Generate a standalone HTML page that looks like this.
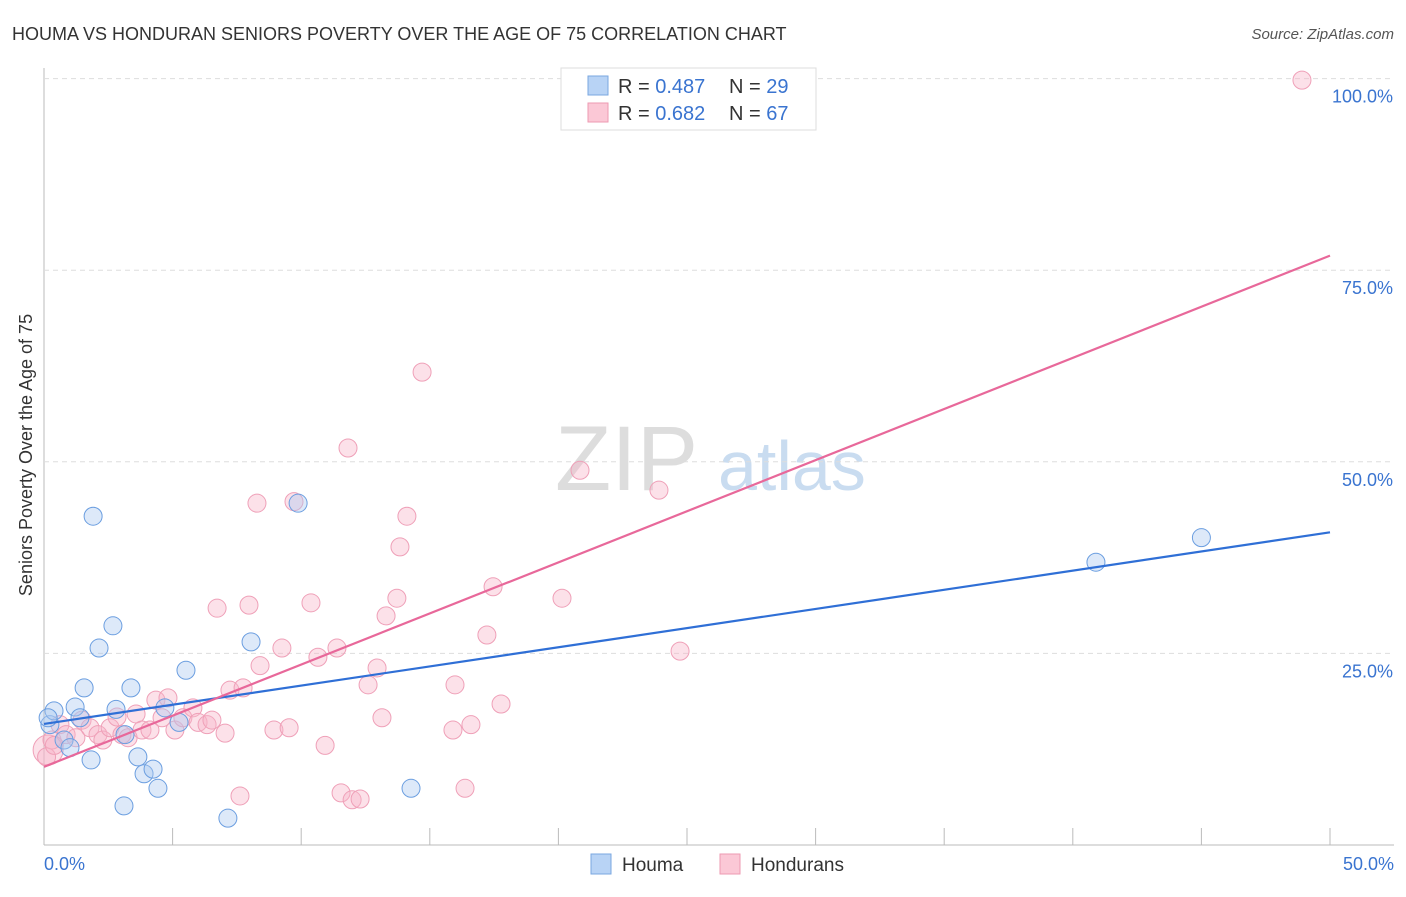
<!DOCTYPE html>
<html><head><meta charset="utf-8"><style>
body{margin:0;background:#fff;font-family:"Liberation Sans",sans-serif;}
svg text{font-family:"Liberation Sans",sans-serif;}
</style></head><body>
<svg id="chart" width="1406" height="892">
<text x="12" y="40" font-size="18" fill="#333">HOUMA VS HONDURAN SENIORS POVERTY OVER THE AGE OF 75 CORRELATION CHART</text>
<text x="1394" y="39" font-size="15" fill="#555" font-style="italic" text-anchor="end">Source: ZipAtlas.com</text>
<text x="555" y="490" font-size="92" fill="#ddd" font-family="Liberation Serif">ZIP</text>
<text x="718" y="490" font-size="70" fill="#c9dcf0">atlas</text>
<text x="32" y="455" font-size="18" fill="#333" text-anchor="middle" transform="rotate(-90 32 455)">Seniors Poverty Over the Age of 75</text>
<g id="grid"></g><g id="pts"></g><g id="lines"></g>
<g>
<rect x="561" y="68" width="255" height="62" fill="#fff" stroke="#ddd"/>
<rect x="588" y="76" width="20" height="19" fill="#b8d3f5" stroke="#7aa7e0"/>
<rect x="588" y="103" width="20" height="19" fill="#fbc8d6" stroke="#ee9ab2"/>
<text x="618" y="93" font-size="20" fill="#333">R = <tspan fill="#3a74d0">0.487</tspan></text>
<text x="729" y="93" font-size="20" fill="#333">N = <tspan fill="#3a74d0">29</tspan></text>
<text x="618" y="120" font-size="20" fill="#333">R = <tspan fill="#3a74d0">0.682</tspan></text>
<text x="729" y="120" font-size="20" fill="#333">N = <tspan fill="#3a74d0">67</tspan></text>
</g>
<g>
<rect x="591" y="854" width="20" height="20" fill="#b8d3f5" stroke="#7aa7e0"/>
<text x="622" y="871" font-size="19" fill="#333">Houma</text>
<rect x="720" y="854" width="20" height="20" fill="#fbc8d6" stroke="#ee9ab2"/>
<text x="751" y="871" font-size="19" fill="#333">Hondurans</text>
</g>
<text x="44" y="870" font-size="18" fill="#3a74d0">0.0%</text>
<text x="1394" y="870" font-size="18" fill="#3a74d0" text-anchor="end">50.0%</text>
</svg>
<script>
const houmaX=[0.23,0.39,0.78,1.01,1.21,1.40,1.56,1.83,1.91,2.14,2.68,2.80,3.11,3.15,3.38,3.65,3.89,4.24,4.43,4.70,5.25,5.52,7.15,8.05,9.88,14.27,40.9,45.0,0.16];
const houmaY=[15.7,17.5,13.7,12.7,18.0,16.6,20.5,11.1,42.9,25.7,28.6,17.7,5.1,14.4,20.5,11.5,9.3,9.9,7.4,17.9,16.0,22.8,3.5,26.5,44.6,7.4,36.9,40.1,16.6];
const hondX=[0.16,0.31,0.62,0.86,1.24,1.48,1.79,2.10,2.29,2.57,2.84,3.03,3.27,3.58,3.81,4.12,4.35,4.59,4.82,5.09,5.40,5.79,5.99,6.34,6.53,6.73,7.04,7.23,7.62,7.74,7.97,8.28,8.40,8.94,9.25,9.53,9.72,10.38,10.65,10.93,11.39,11.55,11.82,11.98,12.29,12.60,12.95,13.14,13.30,13.72,13.84,14.11,14.70,15.90,15.98,16.37,16.60,17.22,17.46,17.77,20.14,20.84,23.91,24.73,48.91,0.1,0.4];
const hondY=[12.4,13.7,15.7,14.4,14.0,16.3,15.3,14.4,13.7,15.3,16.7,14.4,14.0,17.1,15.0,15.0,18.9,16.6,19.2,15.0,16.6,17.9,16.0,15.7,16.3,30.9,14.6,20.2,6.4,20.5,31.3,44.6,23.4,15.0,25.7,15.3,44.8,31.6,24.5,13.0,25.7,6.8,51.8,5.9,6.0,20.9,23.1,16.6,29.9,32.2,38.9,42.9,61.7,15.0,20.9,7.4,15.7,27.4,33.7,18.4,32.2,48.9,46.3,25.3,99.8,11.5,13.0];
const houmaTrend=[15.8,40.8];
const hondTrend=[10.2,76.9];
const yTicks=[25,50,75,100];
const xTicks=[0,5,10,15,20,25,30,35,40,45,50];
const X=v=>44+v/50*1286, Y=v=>845-v/100*766.4;
const NS='http://www.w3.org/2000/svg';
function mk(p,t,a){const e=document.createElementNS(NS,t);for(const k in a)e.setAttribute(k,a[k]);document.getElementById(p).appendChild(e);return e;}
const ax=mk('grid','line',{x1:44,y1:68,x2:44,y2:845,stroke:'#bbb'});


const bx=mk('grid','line',{x1:44,y1:845,x2:1394,y2:845,stroke:'#bbb'});


yTicks.forEach(t=>{
 const g=mk('grid','line',{x1:44,y1:Y(t),x2:1394,y2:Y(t),stroke:'#ddd','stroke-dasharray':'5,4'});
 
 
 const l=mk('grid','text',{x:1393,y:Y(t)+24,'font-size':18,fill:'#3a74d0','text-anchor':'end'});
 l.textContent=t.toFixed(1)+'%';
 
 
});
xTicks.forEach(t=>{
 const k=mk('grid','line',{x1:X(t),y1:828,x2:X(t),y2:845,stroke:'#bbb'});
 
 
});
hondX.forEach((x,i)=>{
 const c=mk('pts','circle',{cx:X(x),cy:Y(hondY[i]),r:i==0?15:9,fill:'rgba(248,180,200,0.4)',stroke:'#efa0b8','stroke-width':1});
 
 
});
houmaX.forEach((x,i)=>{
 const c=mk('pts','circle',{cx:X(x),cy:Y(houmaY[i]),r:9,fill:'rgba(170,200,240,0.4)',stroke:'#6b9ee0','stroke-width':1});
 
 
});
const l1=mk('lines','line',{x1:X(0),y1:Y(houmaTrend[0]),x2:X(50),y2:Y(houmaTrend[1]),stroke:'#2f6fd6','stroke-width':2.2});


const l2=mk('lines','line',{x1:X(0),y1:Y(hondTrend[0]),x2:X(50),y2:Y(hondTrend[1]),stroke:'#e8689a','stroke-width':2.2});


</script>
</body></html>
